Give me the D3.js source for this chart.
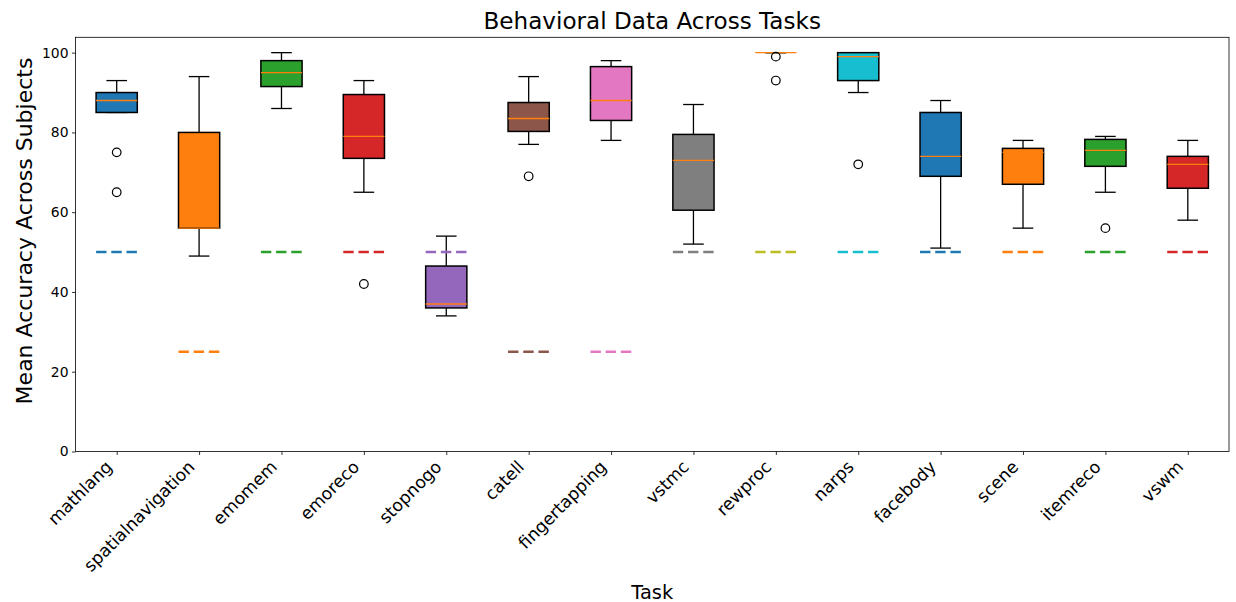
<!DOCTYPE html>
<html><head><meta charset="utf-8">
<script src="https://cdn.jsdelivr.net/npm/d3@7"></script>
<style>body{margin:0;background:#fff}svg{display:block}text{font-family:"DejaVu Sans",sans-serif}</style>
</head><body><svg id="chart" width="1236" height="602"></svg>
<script>
const tasks = ["mathlang","spatialnavigation","emomem","emoreco","stopnogo","catell","fingertapping","vstmc","rewproc","narps","facebody","scene","itemreco","vswm"];
const whiskerLow  = [85, 49, 86, 65, 34, 77, 78, 52, 100, 90, 51, 56, 65, 58];
const q1          = [85, 56, 91.5, 73.5, 36, 80.25, 83, 60.5, 100, 93, 69, 67, 71.5, 66];
const median      = [88, 56, 95, 79, 37, 83.5, 88, 73, 100, 99, 74, 75, 75.5, 72];
const q3          = [90, 80, 98, 89.5, 46.5, 87.5, 96.5, 79.5, 100, 100, 85, 76, 78.25, 74];
const whiskerHigh = [93, 94, 100, 93, 54, 94, 98, 87, 100, 100, 88, 78, 79, 78];
const outliers    = [[75,65],[],[],[42],[],[69],[],[],[99,93],[72],[],[],[56],[]];
const chance      = [50, 25, 50, 50, 50, 25, 25, 50, 50, 50, 50, 50, 50, 50];
const yTicks = [0, 20, 40, 60, 80, 100];
const palette = ["#1f77b4","#ff7f0e","#2ca02c","#d62728","#9467bd","#8c564b","#e377c2","#7f7f7f","#bcbd22","#17becf"];

const W = 1236, H = 602;
const m = {left: 75.5, right: 1229, top: 37.3, bottom: 451.5};
const svg = d3.select("#chart");
svg.append("rect").attr("width", W).attr("height", H).attr("fill", "#fff");

const x = d3.scalePoint().domain(tasks).range([m.left, m.right]).padding(0.5);
const y = d3.scaleLinear().domain([0, 103.85]).range([m.bottom, m.top]);
const step = x.step();
const bw = step * 0.5;
const color = i => palette[i % palette.length];

const data = tasks.map((t, i) => ({t, i, lo: whiskerLow[i], q1: q1[i], med: median[i], q3: q3[i], hi: whiskerHigh[i], out: outliers[i], ch: chance[i]}));

// axes
const xAxis = d3.axisBottom(x).tickSize(3.5).tickSizeOuter(0).tickPadding(3.5);
const gx = svg.append("g").attr("transform", `translate(0,${m.bottom})`).call(xAxis);
gx.select(".domain").remove();
gx.selectAll(".tick line").attr("stroke", "#000").attr("stroke-width", 0.8);
gx.selectAll(".tick text")
  .attr("x", 0).attr("y", 0).attr("dy", null)
  .attr("text-anchor", "end")
  .attr("transform", "translate(-4,16.5) rotate(-45)")
  .attr("font-size", 17.2).attr("font-family", '"DejaVu Sans", sans-serif').attr("fill", "#000");

const yAxis = d3.axisLeft(y).tickValues(yTicks).tickSize(3.5).tickSizeOuter(0).tickPadding(3.5);
const gy = svg.append("g").attr("transform", `translate(${m.left},0)`).call(yAxis);
gy.select(".domain").remove();
gy.selectAll(".tick line").attr("stroke", "#000").attr("stroke-width", 0.8);
gy.selectAll(".tick text").attr("font-size", 13.9).attr("font-family", '"DejaVu Sans", sans-serif').attr("fill", "#000");

// boxes
const g = svg.append("g");
const grp = g.selectAll("g.box").data(data).join("g").attr("class", "box");
// whiskers
grp.append("line").attr("x1", d => x(d.t)).attr("x2", d => x(d.t)).attr("y1", d => y(d.q3)).attr("y2", d => y(d.hi)).attr("stroke", "#000").attr("stroke-width", 1.3);
grp.append("line").attr("x1", d => x(d.t)).attr("x2", d => x(d.t)).attr("y1", d => y(d.q1)).attr("y2", d => y(d.lo)).attr("stroke", "#000").attr("stroke-width", 1.3);
// caps
grp.append("line").attr("x1", d => x(d.t) - bw / 4).attr("x2", d => x(d.t) + bw / 4).attr("y1", d => y(d.hi)).attr("y2", d => y(d.hi)).attr("stroke", "#000").attr("stroke-width", 1.3);
grp.append("line").attr("x1", d => x(d.t) - bw / 4).attr("x2", d => x(d.t) + bw / 4).attr("y1", d => y(d.lo)).attr("y2", d => y(d.lo)).attr("stroke", "#000").attr("stroke-width", 1.3);
// box
grp.append("rect").attr("x", d => x(d.t) - bw / 2).attr("width", bw)
  .attr("y", d => y(d.q3)).attr("height", d => y(d.q1) - y(d.q3))
  .attr("fill", d => color(d.i)).attr("stroke", "#000").attr("stroke-width", 1.5);
// median
grp.append("line").attr("x1", d => x(d.t) - bw / 2).attr("x2", d => x(d.t) + bw / 2).attr("y1", d => y(d.med)).attr("y2", d => y(d.med)).attr("stroke", "#ff7f0e").attr("stroke-width", 1.4);
// fliers
grp.selectAll("circle").data(d => d.out.map(v => ({t: d.t, v}))).join("circle")
  .attr("cx", d => x(d.t)).attr("cy", d => y(d.v)).attr("r", 4.3)
  .attr("fill", "none").attr("stroke", "#000").attr("stroke-width", 1.2);

// chance lines
g.selectAll("line.chance").data(data).join("line").attr("class", "chance")
  .attr("x1", d => x(d.t) - bw / 2).attr("x2", d => x(d.t) + bw / 2)
  .attr("y1", d => y(d.ch)).attr("y2", d => y(d.ch))
  .attr("stroke", d => color(d.i)).attr("stroke-width", 2.5).attr("stroke-dasharray", "10.4,4.8");

// frame
svg.append("rect").attr("x", m.left).attr("y", m.top).attr("width", m.right - m.left).attr("height", m.bottom - m.top)
  .attr("fill", "none").attr("stroke", "#000").attr("stroke-width", 0.8);

// labels
svg.append("text").attr("x", (m.left + m.right) / 2).attr("y", 28.5).attr("text-anchor", "middle").attr("font-size", 23.1).attr("fill", "#000").text("Behavioral Data Across Tasks");
svg.append("text").attr("x", (m.left + m.right) / 2).attr("y", 598.5).attr("text-anchor", "middle").attr("font-size", 19.4).attr("fill", "#000").text("Task");
svg.append("text").attr("transform", `translate(31.5,231) rotate(-90)`).attr("text-anchor", "middle").attr("font-size", 22).attr("fill", "#000").text("Mean Accuracy Across Subjects");
</script></body></html>
